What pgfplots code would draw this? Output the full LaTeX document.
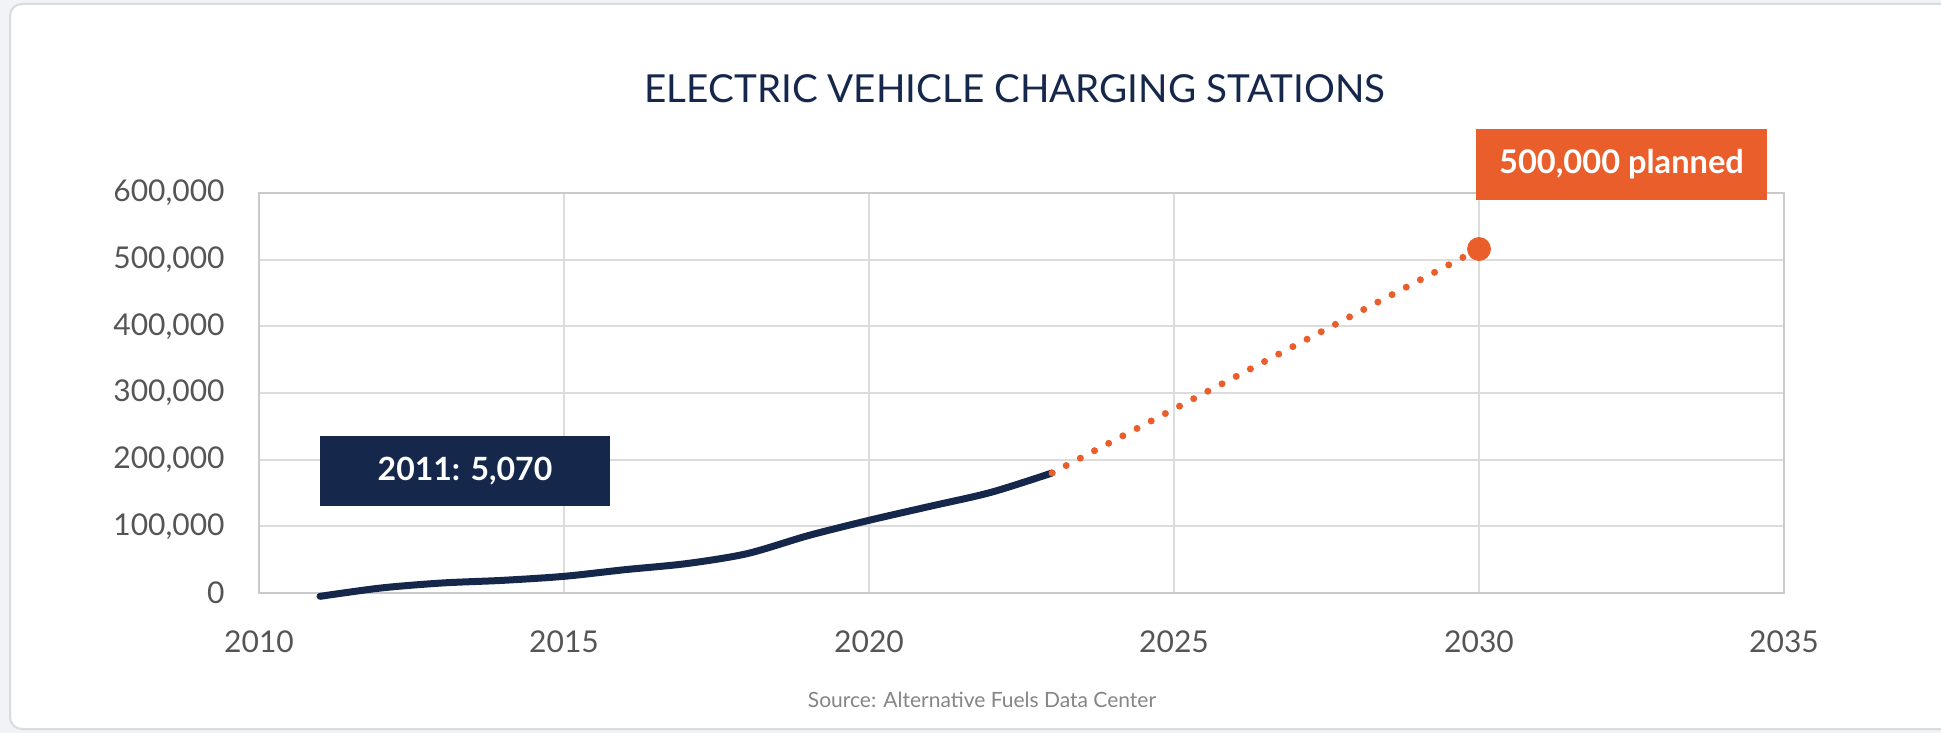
\documentclass[border=0pt]{standalone}
\usepackage{fontspec}
\setmainfont{Lato}
\usepackage{pgfplots}
\pgfplotsset{compat=1.18}
\definecolor{navy}{HTML}{15284B}
\definecolor{orng}{HTML}{E95E2B}
\definecolor{gridc}{HTML}{DCDCDC}
\definecolor{axisc}{HTML}{CACACA}
\definecolor{tickc}{HTML}{555555}
\definecolor{srcc}{HTML}{858585}
\definecolor{bgc}{HTML}{F2F3F6}
\definecolor{cardc}{HTML}{D9DBE1}
\begin{document}
\begin{tikzpicture}[x=1pt,y=1pt]
\fill[bgc] (0,0) rectangle (970.5,366.5);
\fill[white,draw=cardc,line width=1pt,rounded corners=6pt] (5,2) rectangle (1000,364.5);
\node[navy,font=\fontsize{19.3}{22}\selectfont] at (507.5,322.25) {ELECTRIC VEHICLE CHARGING STATIONS};
\begin{axis}[
  at={(129.5pt,70pt)}, anchor=south west,
  scale only axis, width=762.5pt, height=200pt,
  xmin=2010, xmax=2035, ymin=0, ymax=600000,
  xtick={2010,2015,2020,2025,2030,2035},
  xticklabels={2010,2015,2020,2025,2030,2035},
  ytick={0,100000,200000,300000,400000,500000,600000},
  yticklabels={0,{100,000},{200,000},{300,000},{400,000},{500,000},{600,000}},
  scaled y ticks=false, scaled x ticks=false,
  grid=major,
  major grid style={gridc,line width=1pt},
  axis line style={axisc,line width=1.2pt},
  major tick length=0pt,
  tick style={draw=none},
  ticklabel style={tickc,font=\fontsize{15}{18}\selectfont},
  yticklabel style={anchor=east,inner sep=0pt,xshift=-17pt},
  xticklabel style={anchor=north,inner sep=0pt,yshift=-18.5pt},
  clip=false,
]
\addplot[navy,line width=3.5pt,line cap=round,smooth] coordinates {
(2011,-5000) (2012,7500) (2013,15000) (2014,19000) (2015,25000)
(2016,35000) (2017,44000) (2018,59000) (2019,86000) (2020,109000)
(2021,130000) (2022,151000) (2023,180000)};
\addplot[orng,line width=3.5pt,line cap=round,dash pattern=on 0pt off 8pt] coordinates {
(2023,180000) (2030,516000)};
\addplot[orng,only marks,mark=*,mark size=5.75pt] coordinates {(2030,516000)};
\end{axis}
\fill[navy] (160,113.5) rectangle (305,148.5);
\node[white,font=\fontsize{16}{19}\selectfont\bfseries] at (232.5,131) {2011: 5,070};
\fill[orng] (738,266.5) rectangle (883.5,302);
\node[white,font=\fontsize{16.3}{19}\selectfont\bfseries] at (810.75,284.25) {500,000 planned};
\node[srcc,anchor=base,font=\fontsize{10.5}{12}\selectfont] at (491,13) {Source: Alternative Fuels Data Center};
\pgfresetboundingbox
\path[use as bounding box] (0,0) rectangle (970.5,366.5);
\end{tikzpicture}
\end{document}
